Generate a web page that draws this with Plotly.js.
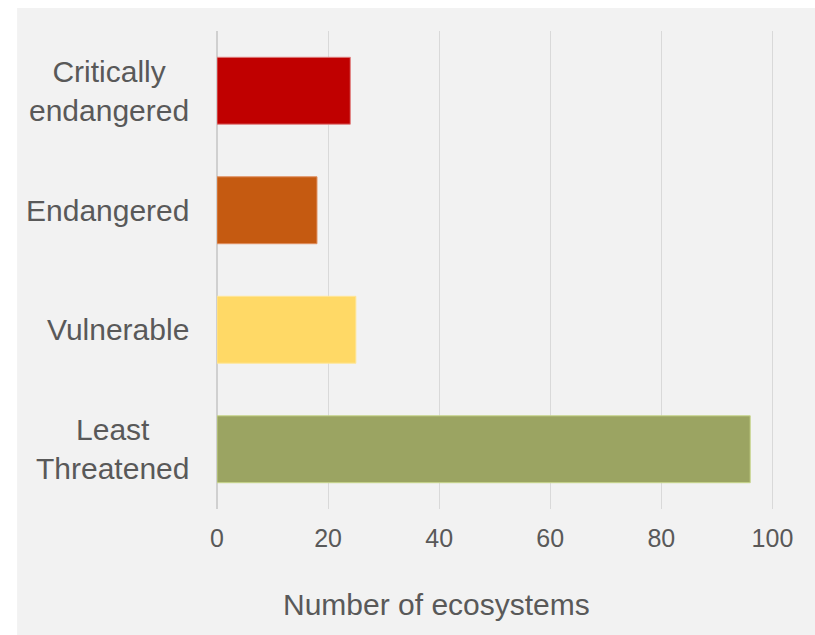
<!DOCTYPE html>
<html>
<head>
<meta charset="utf-8">
<script src="https://cdn.plot.ly/plotly-3.0.1.min.js"></script>
<style>html,body{margin:0;padding:0;background:#fff;}#chart{width:815px;height:635px;}</style>
</head>
<body>
<div id="chart"></div>
<script>
const categories = ['Critically endangered', 'Endangered', 'Vulnerable', 'Least Threatened'];
const categoryLabels = ['Critically<br>endangered', 'Endangered', 'Vulnerable', 'Least<br>Threatened'];
const values = [24, 18, 25, 96];
const barColors = ['#c00000', '#c55a11', '#ffd966', '#9ba462'];
const barEdgeColors = ['#e08080', '#e09060', '#ffe699', '#c8d68c'];
const xTicks = [0, 20, 40, 60, 80, 100];
const xTitle = 'Number of ecosystems';

const textColor = '#595959';
const font = 'Liberation Sans, Arial, sans-serif';

const trace = {
  type: 'bar',
  orientation: 'h',
  x: values,
  y: categories,
  marker: { color: barColors, line: { color: barEdgeColors, width: 1 } },
  hoverinfo: 'x+y'
};

const annotations = categories.map((c, i) => ({
  xref: 'paper', yref: 'y',
  x: -0.046, y: c,
  xanchor: 'right', yanchor: 'middle',
  align: 'center',
  text: categoryLabels[i],
  showarrow: false,
  font: { family: font, size: 30, color: textColor }
}));

annotations.push({
  xref: 'paper', yref: 'paper',
  x: 0.392, y: -0.199,
  xanchor: 'center', yanchor: 'middle',
  text: xTitle,
  showarrow: false,
  font: { family: font, size: 30, color: textColor }
});

const layout = {
  width: 815, height: 635,
  margin: { l: 217, r: 37, t: 31, b: 126 },
  paper_bgcolor: '#ffffff',
  plot_bgcolor: 'rgba(0,0,0,0)',
  showlegend: false,
  bargap: 0.44,
  font: { family: font, color: textColor },
  xaxis: {
    range: [0, 101],
    tickvals: xTicks,
    ticktext: xTicks.map(String),
    showgrid: true, gridcolor: '#d9d9d9', gridwidth: 1,
    zeroline: true, zerolinecolor: '#d0d0d0', zerolinewidth: 1.5,
    showline: false, ticks: '',
    ticklabelstandoff: 12,
    tickfont: { family: font, size: 25, color: textColor },
    fixedrange: true
  },
  yaxis: {
    autorange: 'reversed',
    showticklabels: false, ticks: '',
    showgrid: false, zeroline: false, showline: false,
    fixedrange: true
  },
  shapes: [{
    type: 'rect', xref: 'paper', yref: 'paper', layer: 'below',
    x0: -0.3563, x1: 1.4181, y0: -0.2636, y1: 1.0481,
    fillcolor: '#f2f2f2', line: { width: 0 }
  }],
  annotations: annotations
};

Plotly.newPlot('chart', [trace], layout, { displayModeBar: false, staticPlot: true });
</script>
</body>
</html>
